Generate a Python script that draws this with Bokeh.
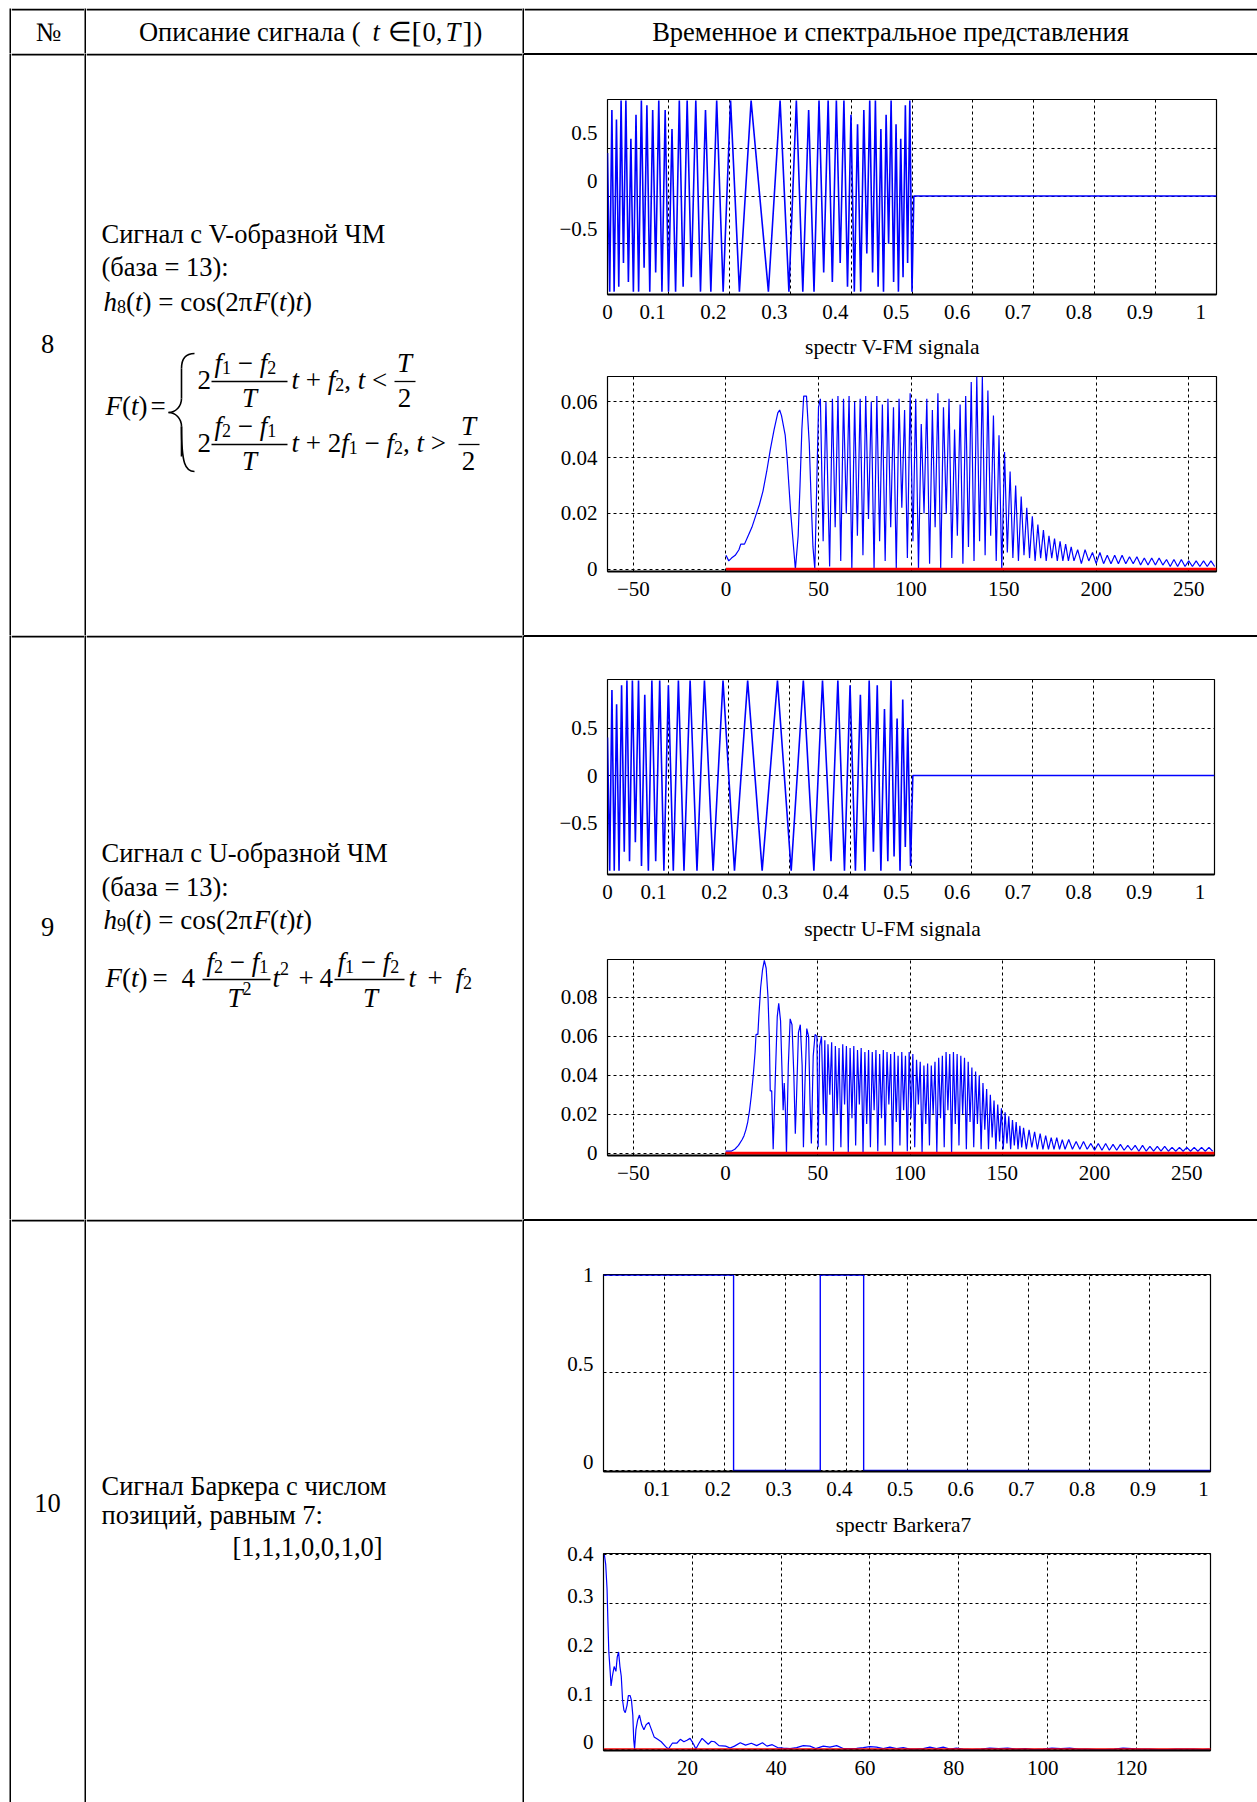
from bokeh.plotting import figure
from bokeh.models import Range1d, FixedTicker, Spacer, LinearAxis, Grid
from bokeh.layouts import row, column
from bokeh.core.properties import value
from bokeh.embed import file_html
from bokeh.resources import INLINE
from bokeh.core.validation import silence
from bokeh.core.validation.warnings import MISSING_RENDERERS

silence(MISSING_RENDERERS, True)

SERIF = "Liberation Serif"
BLUE = "#0000ff"
RED = "#ff0000"
NB = "\u00a0"

# ---------------- data ----------------
# V-FM signal: extrema times and values
v_time = [0.0000, 0.0036, 0.0072, 0.0109, 0.0147, 0.0185, 0.0223, 0.0262, 0.0302, 0.0343,
          0.0384, 0.0425, 0.0468, 0.0511, 0.0556, 0.0601, 0.0647, 0.0694, 0.0742, 0.0791,
          0.0842, 0.0894, 0.0947, 0.1002, 0.1059, 0.1118, 0.1179, 0.1242, 0.1308, 0.1377,
          0.1450, 0.1527, 0.1609, 0.1697, 0.1793, 0.1899, 0.2021, 0.2166, 0.2358,
          0.2642, 0.2834, 0.2979, 0.3101, 0.3207, 0.3303, 0.3391, 0.3473, 0.3550, 0.3623,
          0.3692, 0.3758, 0.3821, 0.3882, 0.3941, 0.3998, 0.4053, 0.4106, 0.4158, 0.4209,
          0.4258, 0.4306, 0.4353, 0.4399, 0.4444, 0.4489, 0.4532, 0.4575, 0.4616, 0.4657,
          0.4698, 0.4738, 0.4777, 0.4815, 0.4853, 0.4891, 0.4928, 0.4964, 0.5000,
          0.503, 1.0]
v_sig = [0.45, -1, 0.9, -1, 0.8, -0.95, 1, -0.7, 1, -0.9,
         0.6, -1, 0.85, -1, 1, -0.75, 0.95, -1, 0.9, -0.8,
         1, -1, 0.9, -1, 0.7, -1, 1, -0.95, 1, -0.85,
         1, -1, 0.9, -1, 1, -1, 1, -1, 1, -1,
         1, -1, 1, -1, 0.9, -1, 1, -0.8, 1, -0.9,
         1, -0.7, 1, -0.95, 0.85, -1, 0.75, -1, 0.9, -0.6,
         1, -0.8, 1, -0.95, 0.7, -1, 0.85, -0.5, 1, -0.9,
         0.75, -1, 0.6, -0.85, 0.95, -0.7, 1, -1,
         0, 0]

v_spec = [(0, 0.005), (1.5, 0.003), (3, 0.004), (5, 0.005), (7, 0.007), (8, 0.009), (10, 0.009),
          (12, 0.012), (14, 0.015), (16, 0.019), (18, 0.023), (20, 0.028), (22, 0.035), (24, 0.043),
          (26, 0.050), (28, 0.056), (29, 0.057), (30, 0.055), (32, 0.048), (33, 0.040), (34, 0.030),
          (35, 0.020), (36, 0.012), (37.5, 0.0), (39, 0.012), (40, 0.030), (41, 0.050), (42, 0.062),
          (43.5, 0.062), (45, 0.045), (46, 0.025), (47, 0.008), (48, 0.0),
          (50, 0.058), (51, 0.061), (52.5, 0.010), (54, 0.060), (56, 0.001), (57.5, 0.061), (59, 0.015),
          (60.5, 0.062), (62, 0.003), (63.5, 0.061), (65, 0.020), (66.5, 0.062), (68, 0.000), (69.5, 0.060),
          (71, 0.012), (72.5, 0.061), (74, 0.005), (75.5, 0.062), (77, 0.018), (78.5, 0.060), (80, 0.000),
          (81.5, 0.062), (83, 0.010), (84.5, 0.059), (86, 0.003), (87.5, 0.061), (89, 0.015), (90.5, 0.058),
          (92, 0.000), (93.5, 0.061), (95, 0.022), (96.5, 0.057), (98, 0.004), (99.5, 0.063), (101, 0.010),
          (102.5, 0.061), (104, 0.000), (105.5, 0.052), (107, 0.020), (108.5, 0.061), (110, 0.002),
          (111.5, 0.057), (113, 0.015), (114.5, 0.063), (116, 0.000), (117.5, 0.058), (119, 0.020),
          (120.5, 0.061), (122, 0.004), (123.5, 0.050), (125, 0.012), (126.5, 0.059), (128, 0.002),
          (129.5, 0.062), (131, 0.008), (132.5, 0.067), (134, 0.003), (135.5, 0.069), (137, 0.010),
          (138.5, 0.069), (140, 0.005), (141.5, 0.064), (143, 0.012), (144.5, 0.055), (146, 0.003),
          (147.5, 0.048), (149, 0.0), (150.5, 0.042), (152, 0.006), (153.5, 0.035), (155, 0.004),
          (156.5, 0.030), (158, 0.003), (159.5, 0.026), (161, 0.005), (162.5, 0.022), (164, 0.004),
          (165.5, 0.019), (167, 0.003), (168.5, 0.016), (170, 0.004), (171.5, 0.014), (173, 0.003),
          (174.5, 0.012), (176, 0.004), (177.5, 0.011), (179, 0.003), (180.5, 0.010), (182, 0.003),
          (183.5, 0.009), (185, 0.003), (186.5, 0.008), (188, 0.003), (190, 0.007), (192, 0.002),
          (194, 0.007), (196, 0.003), (198, 0.006), (200, 0.002), (202, 0.006), (204, 0.002),
          (206, 0.005), (208, 0.002), (210, 0.005), (212, 0.002), (214, 0.005), (216, 0.002),
          (218, 0.0045), (220, 0.002), (222, 0.0045), (224, 0.0015), (226, 0.004), (228, 0.0015),
          (230, 0.004), (232, 0.0015), (234, 0.004), (236, 0.0015), (238, 0.0035), (240, 0.001),
          (242, 0.0035), (244, 0.001), (246, 0.0035), (248, 0.001), (250, 0.003), (252, 0.001),
          (254, 0.003), (256, 0.001), (258, 0.003), (260, 0.001), (262, 0.003), (264, 0.001)]
v_zero = [(0, 0.0), (265, 0.0)]

# U-FM signal
u_time = [0.0000, 0.0036, 0.0073, 0.0111, 0.0150, 0.0190, 0.0232, 0.0276, 0.0320, 0.0363,
          0.0410, 0.0459, 0.0511, 0.0560, 0.0614, 0.0673, 0.0731, 0.0794, 0.0860, 0.0929,
          0.1003, 0.1084, 0.1168, 0.1260, 0.1361, 0.1474, 0.1597, 0.1740, 0.1903, 0.2092,
          0.2309, 0.2548, 0.2800, 0.3026, 0.3226, 0.3400, 0.3542, 0.3682, 0.3795, 0.3904,
          0.3996, 0.4084, 0.4166, 0.4241, 0.4311, 0.4381, 0.4444, 0.4504, 0.4563, 0.4618,
          0.4671, 0.4721, 0.4771, 0.4819, 0.4864, 0.4906, 0.4947, 0.4993,
          0.503, 1.0]
u_sig = [0.4, -1, 0.9, -1, 0.75, -1, 0.95, -0.8, 1, -0.9,
         1, -0.7, 1, -0.95, 0.85, -1, 1, -0.9, 1, -1,
         0.95, -1, 1, -1, 1, -1, 1, -1, 1, -1,
         1, -1, 1, -1, 1, -1, 1, -0.9, 1, -1,
         0.95, -1, 0.85, -1, 1, -0.8, 0.95, -1, 0.7, -0.9,
         1, -0.85, 0.6, -1, 0.8, -0.75, 0.5, -0.95,
         0, 0]

u_spec = [(0, 0.001), (3, 0.001), (5, 0.002), (7, 0.004), (9, 0.007), (10, 0.009), (11, 0.012),
          (12, 0.016), (13, 0.022), (14, 0.030), (15, 0.040), (16, 0.052), (16.5, 0.061), (17.5, 0.061),
          (18, 0.070), (19, 0.085), (20, 0.094), (21, 0.099), (22, 0.095), (23, 0.080), (23.7, 0.060),
          (24.2, 0.032), (25, 0.032), (25.8, 0.002), (27, 0.040), (28, 0.070), (28.8, 0.077), (29.8, 0.068),
          (30.5, 0.045), (31.2, 0.022), (31.8, 0.036), (32.5, 0.020), (33, 0.0), (34, 0.045), (35, 0.069),
          (36, 0.066), (37, 0.040), (37.8, 0.010), (38.5, 0.030), (39.5, 0.062), (40.5, 0.066), (41.5, 0.045),
          (42.2, 0.003), (43, 0.035), (44, 0.064), (45, 0.060), (45.8, 0.025), (46.5, 0.005), (47.5, 0.050),
          (48.5, 0.061), (49.5, 0.060), (50.2, 0.003), (51, 0.055), (52, 0.060), (53, 0.020), (53.8, 0.058),
          (54.5, 0.004), (55.5, 0.056), (56.5, 0.030), (57.5, 0.057), (58.5, 0.001), (59.5, 0.055),
          (60.5, 0.020), (61.5, 0.054), (62.5, 0.003), (63.5, 0.056), (64.5, 0.025), (65.5, 0.055),
          (66.5, 0.000), (67.5, 0.054), (68.5, 0.018), (69.5, 0.055), (70.5, 0.004), (71.5, 0.053),
          (72.5, 0.025), (73.5, 0.054), (74.5, 0.0), (75.5, 0.052), (76.5, 0.015), (77.5, 0.053),
          (78.5, 0.003), (79.5, 0.052), (80.5, 0.022), (81.5, 0.053), (82.5, 0.001), (83.5, 0.051),
          (84.5, 0.018), (85.5, 0.053), (86.5, 0.004), (87.5, 0.052), (88.5, 0.025), (89.5, 0.051),
          (90.5, 0.000), (91.5, 0.052), (92.5, 0.016), (93.5, 0.050), (94.5, 0.004), (95.5, 0.052),
          (96.5, 0.022), (97.5, 0.050), (98.5, 0.001), (99.5, 0.052), (100.5, 0.018), (101.5, 0.051),
          (102.5, 0.003), (103.5, 0.048), (104.5, 0.025), (105.5, 0.047), (106.5, 0.000), (107.5, 0.045),
          (108.5, 0.015), (109.5, 0.046), (110.5, 0.004), (111.5, 0.045), (112.5, 0.020), (113.5, 0.047),
          (114.5, 0.0), (115.5, 0.049), (116.5, 0.018), (117.5, 0.050), (118.5, 0.003), (119.5, 0.052),
          (120.5, 0.022), (121.5, 0.051), (122.5, 0.0), (123.5, 0.052), (124.5, 0.015), (125.5, 0.051),
          (126.5, 0.004), (127.5, 0.050), (128.5, 0.020), (129.5, 0.049), (130.5, 0.002), (131.5, 0.047),
          (132.5, 0.016), (133.5, 0.044), (134.5, 0.003), (135.5, 0.042), (136.5, 0.015), (137.5, 0.040),
          (138.5, 0.002), (139.5, 0.036), (140.5, 0.012), (141.5, 0.033), (142.5, 0.002), (143.5, 0.030),
          (144.5, 0.008), (145.5, 0.027), (146.5, 0.002), (147.5, 0.025), (148.5, 0.006), (149.5, 0.023),
          (150.5, 0.002), (151.5, 0.021), (152.5, 0.005), (153.5, 0.019), (154.5, 0.002), (155.5, 0.017),
          (156.5, 0.004), (157.5, 0.016), (158.5, 0.002), (159.5, 0.014), (160.5, 0.003), (161.5, 0.013),
          (163, 0.002), (164.5, 0.012), (166, 0.003), (167.5, 0.011), (169, 0.002), (170.5, 0.010),
          (172, 0.002), (173.5, 0.009), (175, 0.002), (176.5, 0.008), (178, 0.002), (179.5, 0.008),
          (181, 0.002), (182.5, 0.007), (184, 0.002), (186, 0.007), (188, 0.002), (190, 0.006),
          (192, 0.002), (194, 0.006), (196, 0.002), (198, 0.005), (200, 0.0015), (202, 0.005),
          (204, 0.0015), (206, 0.005), (208, 0.0015), (210, 0.0045), (212, 0.0015), (214, 0.0045),
          (216, 0.0015), (218, 0.004), (220, 0.0015), (222, 0.004), (224, 0.001), (226, 0.004),
          (228, 0.001), (230, 0.0035), (232, 0.001), (234, 0.0035), (236, 0.001), (238, 0.0035),
          (240, 0.001), (242, 0.003), (244, 0.001), (246, 0.003), (248, 0.001), (250, 0.003),
          (252, 0.001), (254, 0.003), (256, 0.001), (258, 0.003), (260, 0.001), (262, 0.003), (264, 0.001)]
u_zero = [(0, 0.0), (265, 0.0)]

# Barker-7 code [1,1,1,0,0,1,0]
b_time = [0, 0.2143, 0.2143, 0.3571, 0.3571, 0.4286, 0.4286, 1.0]
b_sig = [1, 1, 0, 0, 1, 1, 0, 0]

b_spec = [(0.2, 0.40), (0.5, 0.38), (0.8, 0.33), (1.0, 0.26), (1.2, 0.20), (1.5, 0.16), (1.7, 0.13),
          (2.0, 0.15), (2.4, 0.17), (2.8, 0.16), (3.1, 0.19), (3.4, 0.20), (3.7, 0.17), (4.0, 0.15),
          (4.3, 0.10), (4.6, 0.08), (4.9, 0.075), (5.3, 0.09), (5.6, 0.11), (6.0, 0.11), (6.3, 0.10),
          (6.6, 0.07), (6.8, 0.02), (7.0, 0.0), (7.3, 0.04), (7.7, 0.06), (8.1, 0.07), (8.6, 0.05),
          (9.1, 0.04), (9.6, 0.05), (10.2, 0.055), (10.8, 0.04), (11.4, 0.025), (12.2, 0.02), (13.0, 0.015),
          (14.0, 0.005), (14.6, 0.0), (15.5, 0.012), (16.5, 0.012), (17.3, 0.02), (18.1, 0.015),
          (18.8, 0.018), (19.5, 0.022), (20.3, 0.01), (20.8, 0.0), (21.5, 0.012), (22.2, 0.022),
          (23.0, 0.015), (23.6, 0.01), (24.3, 0.016), (25.0, 0.015), (26.0, 0.007), (27.5, 0.006),
          (28.5, 0.002), (29.5, 0.006), (30.8, 0.013), (32.0, 0.008), (33.3, 0.012), (34.5, 0.007),
          (35.8, 0.013), (36.8, 0.006), (38.0, 0.009), (39.2, 0.003), (40.5, 0.002), (42, 0.001),
          (43.5, 0.003), (45.0, 0.007), (46.5, 0.006), (47.8, 0.001), (49.5, 0.006), (51, 0.004),
          (52.5, 0.007), (54, 0.001), (55.5, 0.001), (57, 0.0015), (58.5, 0.003), (60, 0.005),
          (61.5, 0.004), (63, 0.001), (64.5, 0.004), (66, 0.001), (67.5, 0.003), (69, 0.0), (70.5, 0.0),
          (72, 0.001), (73.5, 0.004), (75, 0.001), (76.5, 0.004), (78, 0.0), (79.5, 0.002), (81, 0.0),
          (83, -0.001), (85, 0.0), (87, 0.002), (89, 0.001), (91, 0.002), (93, 0.0), (95, 0.001),
          (97, -0.001), (99, 0.0), (101, 0.002), (103, 0.001), (105, 0.002), (107, 0.0), (109, 0.0),
          (111, -0.001), (113, -0.001), (115, 0.0), (117, 0.002), (119, 0.001), (121, 0.0), (123, 0.0),
          (125, -0.001), (127, -0.001), (129, 0.0), (131, 0.0), (133, 0.0), (135, -0.001), (136.5, 0.0)]
b_zero = [(0, 0.0), (137, 0.0)]

# ticks
t_ticks = [0, 0.1, 0.2, 0.3, 0.4, 0.5, 0.6, 0.7, 0.8, 0.9, 1.0]
t_labels = ["0", "0.1", "0.2", "0.3", "0.4", "0.5", "0.6", "0.7", "0.8", "0.9", "1"]
b_t_ticks = [0.1, 0.2, 0.3, 0.4, 0.5, 0.6, 0.7, 0.8, 0.9, 1.0]
b_t_labels = ["0.1", "0.2", "0.3", "0.4", "0.5", "0.6", "0.7", "0.8", "0.9", "1"]
amp_ticks = [-0.5, 0, 0.5]
amp_labels = ["\u22120.5", "0", "0.5"]
bamp_ticks = [0, 0.5, 1.0]
bamp_labels = ["0", "0.5", "1"]
f_ticks = [-50, 0, 50, 100, 150, 200, 250]
f_labels = ["\u221250", "0", "50", "100", "150", "200", "250"]
vs_ticks = [0, 0.02, 0.04, 0.06]
vs_labels = ["0", "0.02", "0.04", "0.06"]
us_ticks = [0, 0.02, 0.04, 0.06, 0.08]
us_labels = ["0", "0.02", "0.04", "0.06", "0.08"]
bf_ticks = [20, 40, 60, 80, 100, 120]
bf_labels = ["20", "40", "60", "80", "100", "120"]
bs_ticks = [0, 0.1, 0.2, 0.3, 0.4]
bs_labels = ["0", "0.1", "0.2", "0.3", "0.4"]

# ---------------- helpers ----------------
W_N = {' ': 250, NB: 250, '(': 333, ')': 333, '=': 564, '+': 564, '\u2212': 564, '<': 564, '>': 564,
       ',': 250, '[': 333, ']': 333, 'c': 444, 'o': 500, 's': 389, '\u03c0': 549, '\u2208': 713}
W_I = {'h': 500, 't': 278, 'F': 611, 'f': 278, 'T': 556}
I, N = "italic", "normal"
FS = 27  # formula font size
TS = 26.5  # body text size


def twidth(s, style, size):
    tbl = W_I if style == I else W_N
    return sum(tbl.get(ch, 500) for ch in s) * size / 1000.0


def put(f, x, y, s, size=TS, style=N, align="left"):
    # y is the visual centre line of the text
    f.text(x=[x], y=[y], text=[s], text_font=value(SERIF), text_font_size=f"{size}px",
           text_font_style=style, text_align=align, text_baseline="alphabetic", text_color="black")


def runs(f, x, y, items):
    for it in items:
        s, st = it[0], it[1]
        sz = it[2] if len(it) > 2 else FS
        dy = it[3] if len(it) > 3 else 0
        put(f, x, y + dy, s, sz, st)
        x += twidth(s, st, sz)
    return x


def bar(f, x0, x1, y):
    f.segment(x0=[x0], y0=[y], x1=[x1], y1=[y], line_color="black", line_width=1.3)


def cell(x0, y0, w, h, band=False, xr=None):
    f = figure(width=w, height=h, x_range=Range1d(*(xr or (x0, x0 + w))), y_range=Range1d(y0 + h, y0),
               output_backend="svg", toolbar_location=None, title=None, min_border=0,
               x_axis_type=None, y_axis_type=None, outline_line_color=None,
               background_fill_color="white", border_fill_color="white")
    if band:  # table rule along the top edge of the cell
        f.quad(left=[x0], right=[x0 + w], top=[y0], bottom=[y0 + 2], fill_color="black", line_color=None)
    return f


def black(w, h):
    return figure(width=w, height=h, output_backend="svg", toolbar_location=None, title=None, min_border=0,
                  x_axis_type=None, y_axis_type=None, outline_line_color=None,
                  background_fill_color="black", border_fill_color="black")


def rule(w):
    return Spacer(width=w, height=2, styles={"background-color": "black"})


def style_axis(ax, ticks, labels):
    ax.ticker = FixedTicker(ticks=ticks)
    ax.major_label_overrides = {float(t): l for t, l in zip(ticks, labels)}
    ax.major_label_text_font = SERIF
    ax.major_label_text_font_size = "21px"
    ax.major_label_text_color = "black"
    ax.major_tick_line_color = None
    ax.minor_tick_line_color = None
    ax.axis_line_color = None
    ax.major_label_standoff = 4


def mk_plot(w, h, left, right, top, bottom, xr, yr, xt, xl, yt, yl, dx=0.0, dy=0.0):
    p = figure(width=w, height=h, x_range=Range1d(*xr), y_range=Range1d(*yr),
               output_backend="svg", toolbar_location=None, title=None,
               x_axis_type=None, y_axis_type=None,
               min_border_left=left, min_border_right=right, min_border_top=top, min_border_bottom=bottom,
               background_fill_color="white", border_fill_color="white",
               outline_line_color="black", outline_line_width=1.2)
    # label axes sit on ranges offset like the printed labels of the original figure
    lx0, lx1 = xr[0] + dx, xr[1] + dx
    ly0, ly1 = yr[0] - dy, yr[1] - dy
    p.extra_x_ranges = {"lab": Range1d(lx0, lx1)}
    p.extra_y_ranges = {"lab": Range1d(ly0, ly1)}
    xt2 = [min(max(t, lx0), lx1) for t in xt]
    yt2 = [min(max(t, ly0), ly1) for t in yt]
    xa = LinearAxis(x_range_name="lab")
    style_axis(xa, xt2, xl)
    xa.axis_line_color = "black"
    xa.axis_line_width = 2
    ya = LinearAxis(y_range_name="lab")
    style_axis(ya, yt2, yl)
    p.add_layout(xa, "below")
    p.add_layout(ya, "left")
    for d, tk in ((0, xt), (1, yt)):
        p.add_layout(Grid(dimension=d, ticker=FixedTicker(ticks=tk), grid_line_color="black",
                          grid_line_dash="3 3", grid_line_width=1))
    return p


def xy(pairs):
    return [a for a, b in pairs], [b for a, b in pairs]


# ---------------- header ----------------
hdr1 = cell(11, 8, 73, 45, band=True)
put(hdr1, 48, 31, "\u2116", align="center")
hdr2 = cell(86, 8, 436, 45, band=True)
put(hdr2, 360, 31, "\u041e\u043f\u0438\u0441\u0430\u043d\u0438\u0435 \u0441\u0438\u0433\u043d\u0430\u043b\u0430 (", align="right")
put(hdr2, 372, 31, "t", style=I)
put(hdr2, 387, 31, "\u2208")
put(hdr2, 411, 31, "[", size=30)
put(hdr2, 422, 31, "0,")
put(hdr2, 445, 31, "T", style=I)
put(hdr2, 462, 31, "]", size=30)
put(hdr2, 473, 31, ")")
hdr3 = cell(524, 8, 733, 45, band=True)
put(hdr3, 890, 31, "\u0412\u0440\u0435\u043c\u0435\u043d\u043d\u043e\u0435 \u0438 \u0441\u043f\u0435\u043a\u0442\u0440\u0430\u043b\u044c\u043d\u043e\u0435 \u043f\u0440\u0435\u0434\u0441\u0442\u0430\u0432\u043b\u0435\u043d\u0438\u044f", align="center")


def h_line(f, x, y, digit):
    runs(f, x, y, [("h", I), (digit, N, 18, 5), ("(", N), ("t", I), (")" + NB + "=" + NB + "cos(2\u03c0", N),
                   ("F", I), ("(", N), ("t", I), (")", N), ("t", I), (")", N)])


def sub(d):
    return (d, N, 18, 5)


def sup(d):
    return (d, N, 18, -9)


MINUS = (NB + "\u2212" + NB, N)

# ---------------- row 8 ----------------
num8 = cell(11, 53, 73, 582, band=True)
put(num8, 47, 343, "8", align="center")
d8 = cell(86, 53, 436, 582, band=True)
put(d8, 101, 233, "\u0421\u0438\u0433\u043d\u0430\u043b \u0441 V-\u043e\u0431\u0440\u0430\u0437\u043d\u043e\u0439 \u0427\u041c")
put(d8, 101, 266, "(\u0431\u0430\u0437\u0430 = 13):")
h_line(d8, 103, 301, "8")
runs(d8, 105, 405, [("F", I), ("(", N), ("t", I), (")", N)])
put(d8, 150, 405, "=", size=FS)
# brace
d8.bezier(x0=[194, 181, 168, 181], y0=[353, 398, 412, 426],
          x1=[181, 168, 181, 194], y1=[368, 412, 426, 471],
          cx0=[185, 181, 175, 181], cy0=[353, 406, 412, 464],
          cx1=[181, 175, 181, 185], cy1=[358, 412, 418, 471], line_color="black", line_width=1.6)
d8.segment(x0=[181, 181], y0=[368, 426], x1=[181, 181], y1=[398, 456], line_color="black", line_width=1.6)
# line 1
put(d8, 197, 379, "2", size=FS)
runs(d8, 214, 362, [("f", I), sub("1"), MINUS, ("f", I), sub("2")])
bar(d8, 211, 287, 381)
put(d8, 249, 397, "T", size=FS, style=I, align="center")
runs(d8, 291, 379, [("t", I), (NB + "+" + NB, N), ("f", I), sub("2"), ("," + NB, N), ("t", I), (NB + "<", N)])
put(d8, 404, 362, "T", size=FS, style=I, align="center")
bar(d8, 394, 415, 381)
put(d8, 404, 397, "2", size=FS, align="center")
# line 2
put(d8, 197, 442, "2", size=FS)
runs(d8, 214, 425, [("f", I), sub("2"), MINUS, ("f", I), sub("1")])
bar(d8, 211, 287, 444)
put(d8, 249, 460, "T", size=FS, style=I, align="center")
runs(d8, 291, 442, [("t", I), (NB + "+" + NB + "2", N), ("f", I), sub("1"), MINUS, ("f", I),
                    sub("2"), ("," + NB, N), ("t", I), (NB + ">", N)])
put(d8, 468, 425, "T", size=FS, style=I, align="center")
bar(d8, 458, 479, 444)
put(d8, 468, 460, "2", size=FS, align="center")

vx, vy = xy(v_spec)
p8a = mk_plot(733, 247, 83, 41, 16, 36, (0, 1.0), (-1.03, 1.01), t_ticks, t_labels, amp_ticks, amp_labels,
              dx=0.026, dy=0.157)
p8a.line(v_time, v_sig, line_color=BLUE, line_width=1.6)
s8 = cell(524, 330, 733, 32, xr=(607, 1216))
put(s8, 892, 346, "spectr V-FM signala", size=21.5, align="center")
p8b = mk_plot(733, 273, 83, 41, 14, 64, (-64, 265), (-0.0008, 0.069), f_ticks, f_labels, vs_ticks, vs_labels)
p8b.line(vx, vy, line_color=BLUE, line_width=1.2)
zx, zy = xy(v_zero)
p8b.line(zx, zy, line_color=RED, line_width=3)

# ---------------- row 9 ----------------
num9 = cell(11, 635, 73, 584, band=True)
put(num9, 47, 926, "9", align="center")
d9 = cell(86, 635, 436, 584, band=True)
put(d9, 101, 852, "\u0421\u0438\u0433\u043d\u0430\u043b \u0441 U-\u043e\u0431\u0440\u0430\u0437\u043d\u043e\u0439 \u0427\u041c")
put(d9, 101, 886, "(\u0431\u0430\u0437\u0430 = 13):")
h_line(d9, 103, 919, "9")
runs(d9, 105, 977, [("F", I), ("(", N), ("t", I), (")", N)])
put(d9, 152, 977, "=", size=FS)
put(d9, 181, 977, "4", size=FS)
runs(d9, 206, 961, [("f", I), sub("2"), MINUS, ("f", I), sub("1")])
bar(d9, 202, 270, 979)
runs(d9, 227, 997, [("T", I), sup("2")])
runs(d9, 272, 977, [("t", I), sup("2")])
put(d9, 298, 977, "+", size=FS)
put(d9, 319, 977, "4", size=FS)
runs(d9, 337, 961, [("f", I), sub("1"), MINUS, ("f", I), sub("2")])
bar(d9, 334, 404, 979)
put(d9, 370, 997, "T", size=FS, style=I, align="center")
put(d9, 408, 977, "t", size=FS, style=I)
put(d9, 427, 977, "+", size=FS)
runs(d9, 455, 977, [("f", I), sub("2")])

ux, uy = xy(u_spec)
p9a = mk_plot(733, 247, 83, 43, 14, 38, (0, 1.0), (-1.04, 1.01), t_ticks, t_labels, amp_ticks, amp_labels,
              dx=0.024)
p9a.line(u_time, u_sig, line_color=BLUE, line_width=1.6)
s9 = cell(524, 912, 733, 32, xr=(607, 1214))
put(s9, 892, 928, "spectr U-FM signala", size=21.5, align="center")
p9b = mk_plot(733, 275, 83, 43, 15, 64, (-64, 265), (-0.0012, 0.0995), f_ticks, f_labels, us_ticks, us_labels)
p9b.line(ux, uy, line_color=BLUE, line_width=1.2)
zx, zy = xy(u_zero)
p9b.line(zx, zy, line_color=RED, line_width=3)

# ---------------- row 10 ----------------
num10 = cell(11, 1219, 73, 583, band=True)
put(num10, 47, 1502, "10", align="center")
d10 = cell(86, 1219, 436, 583, band=True)
put(d10, 101, 1485, "\u0421\u0438\u0433\u043d\u0430\u043b \u0411\u0430\u0440\u043a\u0435\u0440\u0430 \u0441 \u0447\u0438\u0441\u043b\u043e\u043c")
put(d10, 101, 1514, "\u043f\u043e\u0437\u0438\u0446\u0438\u0439, \u0440\u0430\u0432\u043d\u044b\u043c 7:")
put(d10, 232, 1546, "[1,1,1,0,0,1,0]")

bx, by = xy(b_spec)
p10a = mk_plot(733, 259, 79, 47, 25, 37, (0, 1.0), (-0.005, 1.003), b_t_ticks, b_t_labels, bamp_ticks, bamp_labels,
               dx=0.0115, dy=0.046)
p10a.line(b_time, b_sig, line_color=BLUE, line_width=1.4)
s10 = cell(524, 1508, 733, 28, xr=(603, 1210))
put(s10, 903, 1524, "spectr Barkera7", size=21.5, align="center")
p10b = mk_plot(733, 266, 79, 47, 17, 52, (0, 136.7), (-0.003, 0.403), bf_ticks, bf_labels, bs_ticks, bs_labels,
               dx=1.1, dy=0.0144)
p10b.line(bx, by, line_color=BLUE, line_width=1.2)
zx, zy = xy(b_zero)
p10b.line(zx, zy, line_color=RED, line_width=1.5)


# ---------------- table layout ----------------
def trow(h, c1, c2, c3):
    return row(Spacer(width=9, height=h), black(2, h), c1, black(2, h), c2, black(2, h), c3)


def col3(*items):
    return column(rule(733), Spacer(width=733, height=28), *items)


layout = column(
    Spacer(width=1257, height=8),
    trow(45, hdr1, hdr2, hdr3),
    trow(582, num8, d8, col3(p8a, s8, p8b)),
    trow(584, num9, d9, col3(p9a, s9, p9b)),
    trow(583, num10, d10, col3(p10a, s10, p10b)),
)

open("out.html", "w").write(file_html(layout, INLINE))
